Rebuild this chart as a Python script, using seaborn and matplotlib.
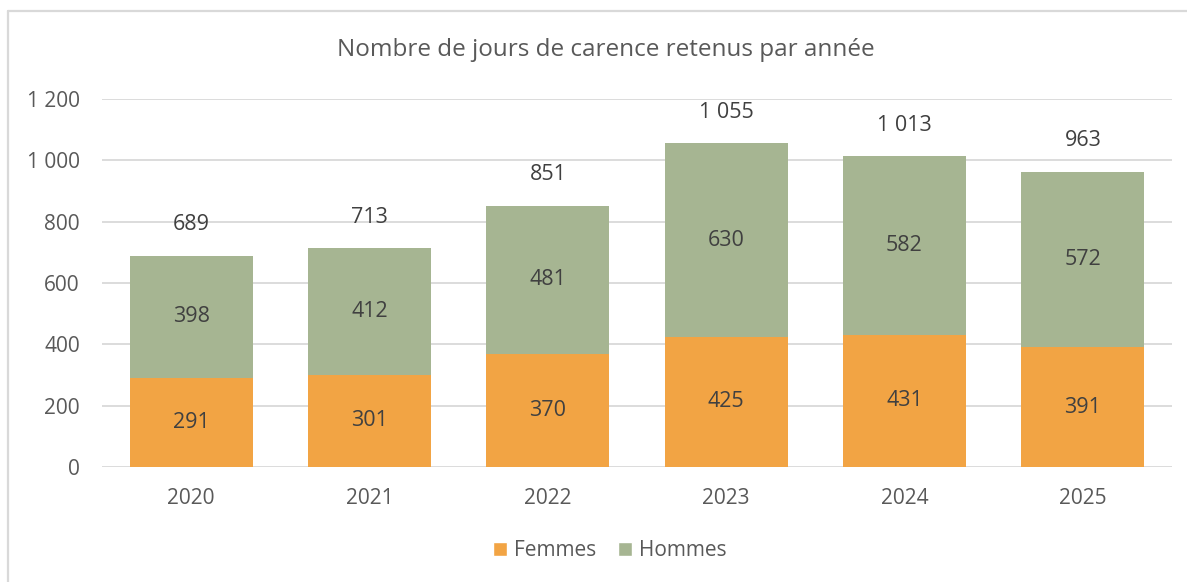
import matplotlib
matplotlib.use("Agg")
import matplotlib.pyplot as plt
from matplotlib.patches import Patch
from matplotlib.lines import Line2D
import numpy as np
import pandas as pd
import seaborn as sns

# Données : jours de carence retenus par année
annees = ["2020", "2021", "2022", "2023", "2024", "2025"]
femmes = [291, 301, 370, 425, 431, 391]
hommes = [398, 412, 481, 630, 582, 572]
graduations = [0, 200, 400, 600, 800, 1000, 1200]

COUL_FEMMES = "#F2A444"
COUL_HOMMES = "#A6B592"
GRIS_TEXTE = "#595959"
GRIS_LIGNE = "#D9D9D9"

sns.set_theme(style="white")
plt.rcParams["font.family"] = ["Open Sans", "DejaVu Sans"]

df = pd.DataFrame({"annee": annees, "femmes": femmes, "hommes": hommes})
df["total"] = df["femmes"] + df["hommes"]

fig = plt.figure(figsize=(11.87, 5.82), dpi=100)
W, H = 1187, 582
ax = fig.add_axes([102 / W, 1 - 467 / H, (1172 - 102) / W, (467 - 99) / H])

# Cadre du graphique (bords haut et gauche)
y_cadre = 1 - 11 / H
x_cadre = 8 / W
fig.lines.append(Line2D([x_cadre, 1.0], [y_cadre, y_cadre], transform=fig.transFigure,
                        color=GRIS_LIGNE, linewidth=1.6))
fig.lines.append(Line2D([x_cadre, x_cadre], [0.0, y_cadre], transform=fig.transFigure,
                        color=GRIS_LIGNE, linewidth=1.6))

# Barres empilées : le total (hommes) en fond, les femmes par-dessus
sns.barplot(data=df, x="annee", y="total", color=COUL_HOMMES, width=0.69,
            saturation=1, ax=ax, zorder=3, edgecolor="none")
sns.barplot(data=df, x="annee", y="femmes", color=COUL_FEMMES, width=0.69,
            saturation=1, ax=ax, zorder=4, edgecolor="none")

ax.set_ylim(0, 1200)
ax.set_xlim(-0.5, len(annees) - 0.5)
ax.set_yticks(graduations)
ax.set_yticklabels([f"{v:,}".replace(",", " ") for v in graduations])
ax.yaxis.grid(True, color=GRIS_LIGNE, linewidth=1.3, zorder=0)
ax.set_axisbelow(True)
for s in ax.spines.values():
    s.set_visible(False)
ax.set_xlabel("")
ax.set_ylabel("")
ax.tick_params(axis="both", length=0, labelsize=15, labelcolor=GRIS_TEXTE)
ax.tick_params(axis="x", pad=15)
ax.tick_params(axis="y", pad=16)

# Étiquettes de valeurs
for i, row in df.iterrows():
    ax.text(i, row["femmes"] / 2, f"{row['femmes']}", ha="center", va="center",
            fontsize=15.5, color="#404040", zorder=5)
    ax.text(i, row["femmes"] + row["hommes"] / 2, f"{row['hommes']}",
            ha="center", va="center", fontsize=15.5, color="#404040", zorder=5)
    ax.text(i, row["total"] + 102, f"{row['total']:,}".replace(",", " "),
            ha="center", va="center", fontsize=15.5, color="#404040", zorder=5)

fig.text(606 / W, 1 - 50 / H, "Nombre de jours de carence retenus par année",
         ha="center", va="center", fontsize=17.5, color=GRIS_TEXTE)

handles = [Patch(facecolor=COUL_FEMMES, label="Femmes"),
           Patch(facecolor=COUL_HOMMES, label="Hommes")]
fig.legend(handles=handles, loc="center", bbox_to_anchor=(610 / W, 1 - 551 / H),
           ncol=2, frameon=False, fontsize=15, labelcolor=GRIS_TEXTE,
           handlelength=0.65, handleheight=0.65, handletextpad=0.35,
           columnspacing=1.05)

fig.savefig("out.png", dpi=100, facecolor="white")
